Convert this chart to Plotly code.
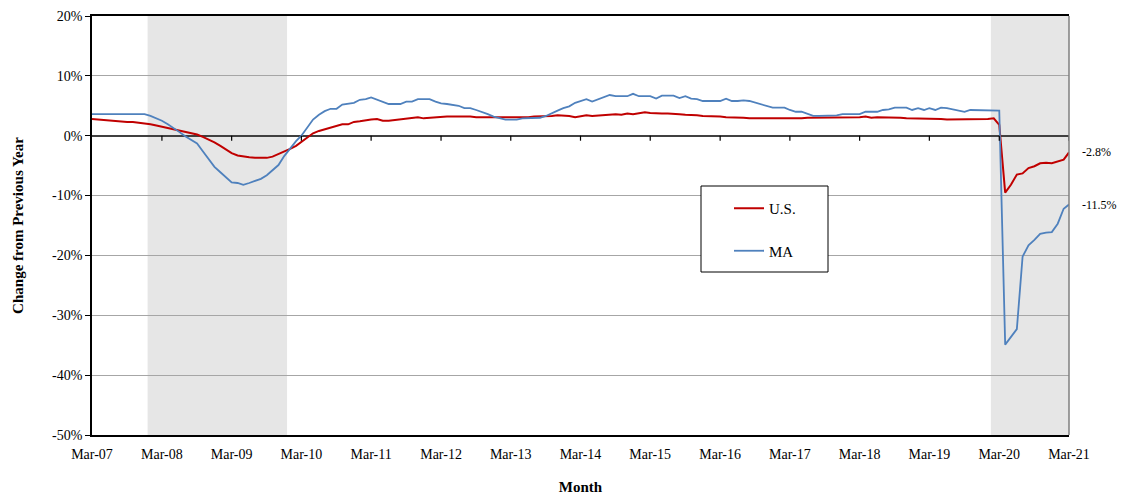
import pandas as pd
import plotly.graph_objects as go

# Monthly year-over-year change in employment, Mar-2007 through Mar-2021 (percent)
months = pd.date_range("2007-03-01", "2021-03-01", freq="MS")

us_change = [
    2.8, 2.7, 2.7, 2.6, 2.5, 2.4, 2.3, 2.3, 2.2, 2.0, 1.9, 1.7,
    1.5, 1.3, 1.1, 0.9, 0.7, 0.5, 0.2, -0.2, -0.6, -1.1, -1.7, -2.3,
    -2.9, -3.3, -3.5, -3.6, -3.7, -3.7, -3.7, -3.5, -3.1, -2.6, -2.2, -1.7,
    -1.0, -0.3, 0.4, 0.8, 1.1, 1.4, 1.7, 1.9, 1.9, 2.3, 2.4, 2.6,
    2.7, 2.8, 2.5, 2.5, 2.6, 2.7, 2.8, 2.9, 3.1, 2.9, 3.0, 3.1,
    3.2, 3.2, 3.2, 3.2, 3.3, 3.2, 3.1, 3.1, 3.0, 3.0, 3.1, 3.0,
    3.1, 3.1, 3.0, 3.1, 3.2, 3.2, 3.2, 3.3, 3.4, 3.4, 3.3, 3.1,
    3.3, 3.4, 3.3, 3.4, 3.4, 3.5, 3.6, 3.5, 3.7, 3.6, 3.7, 3.9,
    3.8, 3.7, 3.7, 3.7, 3.7, 3.6, 3.5, 3.5, 3.4, 3.3, 3.3, 3.2,
    3.2, 3.1, 3.1, 3.0, 3.0, 2.9, 2.9, 2.9, 2.9, 2.8, 2.9, 2.9,
    2.9, 2.8, 2.9, 3.0, 3.0, 3.0, 3.0, 3.0, 3.0, 3.0, 3.0, 3.0,
    3.1, 3.2, 3.0, 3.1, 3.1, 3.0, 3.0, 3.0, 2.9, 2.9, 2.9, 2.9,
    2.9, 2.8, 2.8, 2.7, 2.7, 2.7, 2.7, 2.8, 2.8, 2.8, 2.8, 2.9,
    1.8, -9.5, -8.2, -6.5, -6.3, -5.4, -5.1, -4.6, -4.5, -4.6, -4.3, -4.0,
    -2.8,
]

ma_change = [
    3.6, 3.6, 3.6, 3.6, 3.6, 3.6, 3.6, 3.6, 3.6, 3.6, 3.3, 2.9,
    2.5, 1.9, 1.3, 0.6, -0.1, -0.7, -1.3, -2.6, -3.9, -5.2, -6.1, -7.0,
    -7.8, -7.9, -8.2, -7.9, -7.6, -7.2, -6.6, -5.8, -4.9, -3.4, -2.1, -0.9,
    0.0, 1.3, 2.7, 3.5, 4.1, 4.5, 4.5, 5.2, 5.3, 5.5, 6.0, 6.1,
    6.4, 6.0, 5.6, 5.3, 5.3, 5.3, 5.7, 5.7, 6.1, 6.1, 6.1, 5.7,
    5.4, 5.3, 5.1, 5.0, 4.6, 4.6, 4.3, 4.0, 3.6, 3.2, 2.9, 2.7,
    2.7, 2.7, 2.9, 2.95, 3.0, 3.0, 3.3, 3.8, 4.2, 4.6, 4.9, 5.5,
    5.8, 6.1, 5.7, 6.1, 6.4, 6.8, 6.6, 6.6, 6.6, 7.0, 6.6, 6.6,
    6.6, 6.2, 6.7, 6.7, 6.7, 6.3, 6.6, 6.2, 6.1, 5.8, 5.8, 5.8,
    5.8, 6.2, 5.8, 5.8, 5.9, 5.8, 5.5, 5.3, 5.0, 4.7, 4.7, 4.7,
    4.3, 4.0, 4.0, 3.7, 3.3, 3.3, 3.3, 3.3, 3.4, 3.6, 3.6, 3.6,
    3.6, 4.0, 4.0, 4.0, 4.3, 4.4, 4.7, 4.7, 4.7, 4.3, 4.6, 4.3,
    4.6, 4.3, 4.7, 4.6, 4.4, 4.3, 4.0, 4.3, 4.3, 4.3, 4.3, 4.3,
    4.2, -34.9, -33.7, -32.3, -20.2, -18.3, -17.4, -16.4, -16.2, -16.1, -14.7, -12.2,
    -11.5,
]

# Shaded recession periods (first and last month covered)
recession_start = ["2008-01-01", "2020-02-01"]
recession_end = ["2009-12-01", "2021-03-01"]

# Axis ticks
x_ticks = pd.date_range("2007-03-01", "2021-03-01", freq="12MS")
y_ticks = [20, 10, 0, -10, -20, -30, -40, -50]

FONT = "Liberation Serif, Times New Roman, serif"
RED = "#c00000"
BLUE = "#4f81bd"

fig = go.Figure()

fig.add_trace(go.Scatter(
    x=months, y=us_change, name="U.S.", mode="lines",
    line=dict(color=RED, width=2), legendgroup="us",
))
fig.add_trace(go.Scatter(
    x=months, y=ma_change, name="MA", mode="lines",
    line=dict(color=BLUE, width=1.8), legendgroup="ma",
))

half_month = pd.Timedelta(days=15)
shapes = []
for s, e in zip(recession_start, recession_end):
    shapes.append(dict(
        type="rect", xref="x", yref="y", layer="below",
        x0=pd.Timestamp(s) - half_month, x1=pd.Timestamp(e) + half_month,
        y0=-50, y1=20, fillcolor="#e6e6e6", line=dict(width=0),
    ))

# small tick marks hanging below the zero line at each March
for t in x_ticks[1:]:
    shapes.append(dict(
        type="line", xref="x", yref="y", ysizemode="pixel", yanchor=0,
        x0=t, x1=t, y0=0, y1=-5, line=dict(color="#000000", width=1.2),
    ))

# right-hand frame edge
shapes.append(dict(
    type="line", xref="paper", yref="paper", x0=1, x1=1, y0=0, y1=1,
    line=dict(color="#7f7f7f", width=1.5),
))

# legend frame
shapes.append(dict(
    type="rect", xref="paper", yref="paper", layer="above",
    x0=(701 - 92) / 977, x1=(828 - 92) / 977,
    y0=(435 - 272) / 419, y1=(435 - 186) / 419,
    fillcolor="white", line=dict(color="#000000", width=1),
))

annotations = []
for vals in (us_change, ma_change):
    annotations.append(dict(
        x=months[-1], y=vals[-1], xref="x", yref="y",
        text=f"{vals[-1]:.1f}%", showarrow=False,
        xanchor="left", xshift=11, font=dict(family=FONT, size=12, color="#000"),
    ))

fig.update_layout(
    width=1122, height=495,
    margin=dict(l=92, r=53, t=16, b=60),
    paper_bgcolor="white", plot_bgcolor="white",
    font=dict(family=FONT, size=14, color="#000"),
    shapes=shapes,
    annotations=annotations,
    showlegend=True,
    legend=dict(
        x=(729 - 92) / 977, y=(435 - 192) / 419, xanchor="left", yanchor="top",
        bgcolor="rgba(0,0,0,0)", borderwidth=0,
        font=dict(family=FONT, size=15, color="#000"),
        tracegroupgap=20,
    ),
    xaxis=dict(
        type="date", automargin=False,
        range=[months[0], months[-1]],
        tickvals=list(x_ticks),
        ticktext=[t.strftime("%b-%y") for t in x_ticks],
        showgrid=False, zeroline=False,
        showline=True, linecolor="#000000", linewidth=1.5, mirror=True,
        ticks="", ticklabelstandoff=5,
        tickfont=dict(family=FONT, size=14),
        title=dict(text="Month", font=dict(family=FONT, size=15, weight="bold"), standoff=22),
    ),
    yaxis=dict(
        automargin=False,
        range=[-50, 20],
        tickvals=y_ticks,
        ticktext=[f"{v}%" for v in y_ticks],
        showgrid=True, gridcolor="#a6a6a6", gridwidth=1,
        zeroline=True, zerolinecolor="#404040", zerolinewidth=1.5,
        showline=True, linecolor="#000000", linewidth=1.5,
        ticks="outside", ticklen=5, tickcolor="#000000",
        tickfont=dict(family=FONT, size=14),
        title=dict(text="Change from Previous Year",
                   font=dict(family=FONT, size=15, weight="bold"), standoff=25),
    ),
)

fig.write_html("out.html")
